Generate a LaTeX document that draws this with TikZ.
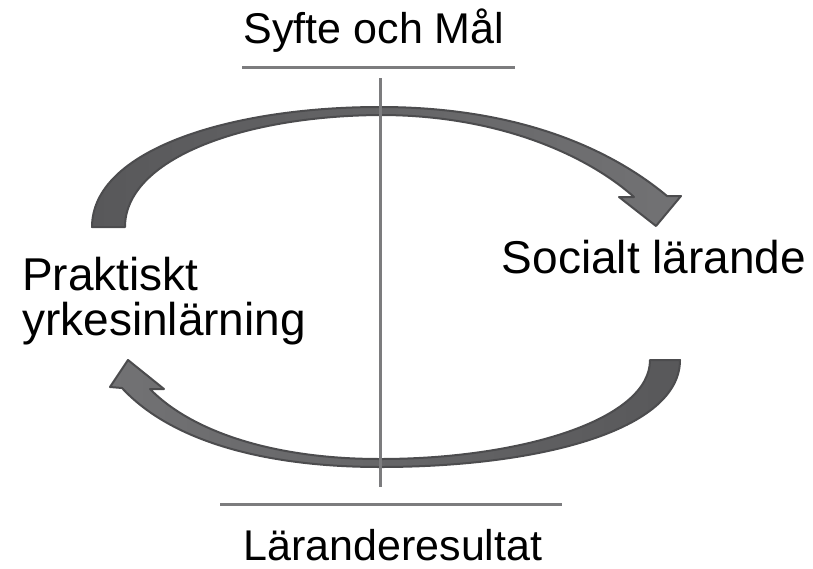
\documentclass[tikz,border=0pt]{standalone}
\usepackage{fontspec}
\setmainfont{Liberation Sans}
\begin{document}
\begin{tikzpicture}[x=1pt,y=-1pt,
  rule/.style={draw=linegray,line width=3pt},
  bigarrow/.style={draw=arrowedge,line width=2pt,line join=round},
  toplabel/.style={inner sep=0pt,anchor=base,font=\fontsize{43}{45}\selectfont},
  sidelabel/.style={inner sep=0pt,font=\fontsize{46}{45}\selectfont}]
\definecolor{linegray}{HTML}{7C7C7E}
\definecolor{arrowedge}{HTML}{4C4C4E}
\definecolor{arrowdark}{HTML}{58585A}
\definecolor{arrowlight}{HTML}{727274}
\useasboundingbox (0,0) rectangle (813,568);
% top curved arrow
\shadedraw[bigarrow,left color=arrowdark,right color=arrowlight]
  (92,227) .. controls (92,150) and (230,107) .. (380,107)
  .. controls (520,107) and (612,150) .. (667,196)
  -- (681,196) -- (656,226) -- (619,197) -- (634,197)
  .. controls (588,156) and (500,115) .. (380,115)
  .. controls (240,116) and (125,160) .. (125,227) -- cycle;
% bottom curved arrow
\shadedraw[bigarrow,left color=arrowlight,right color=arrowdark]
  (650,360) .. controls (650,420) and (520,459) .. (380,459)
  .. controls (270,459) and (190,430) .. (150,389)
  -- (164,389) -- (128,360) -- (110,387) -- (122,388)
  .. controls (170,440) and (262,467) .. (380,467)
  .. controls (540,467) and (680,430) .. (680,360) -- cycle;
% rules
\coordinate (vt) at (380,78);
\coordinate (vb) at (380,487);
\coordinate (tl) at (242,67);
\coordinate (tr) at (515,67);
\coordinate (bl) at (220,504);
\coordinate (br) at (562,504);
\draw[rule] (vt) -- (vb);
\draw[rule] (tl) -- (tr);
\draw[rule] (bl) -- (br);
% labels
\node[toplabel] (goal) at (374,43) {Syfte och Mål};
\node[toplabel] (result) at (393,560) {Läranderesultat};
\node[sidelabel,anchor=base west,align=left] (practical) at (22,335) {Praktiskt\\yrkesinlärning};
\node[sidelabel,anchor=base] (social) at (654,273) {Socialt lärande};
\end{tikzpicture}
\end{document}
